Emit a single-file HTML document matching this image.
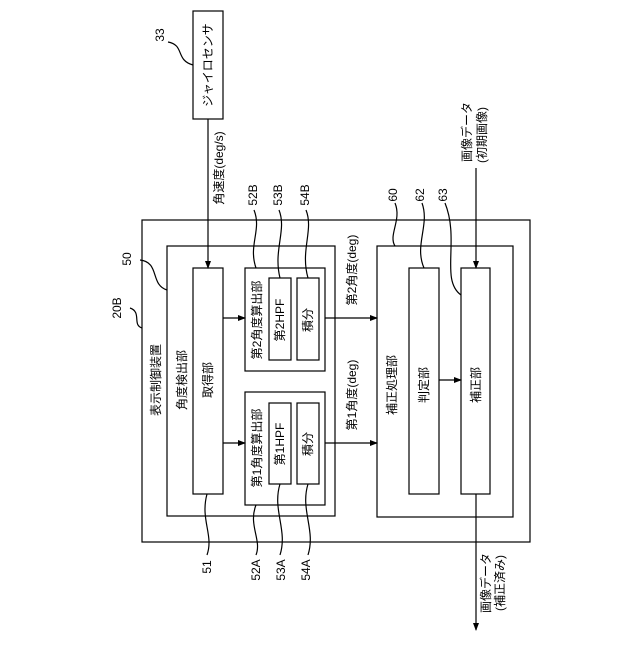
<!DOCTYPE html>
<html><head><meta charset="utf-8"><style>html,body{margin:0;padding:0;background:#fff}</style></head>
<body>
<svg width="640" height="640" viewBox="0 0 640 640" xmlns="http://www.w3.org/2000/svg" font-family="Liberation Sans, Noto Sans CJK JP, sans-serif" font-size="12" fill="#000">
<defs><marker id="a" markerWidth="8" markerHeight="8" refX="7" refY="4" orient="auto" markerUnits="userSpaceOnUse"><path d="M0,1 L8,4 L0,7 Z" fill="#000"/></marker></defs>
<g fill="none" stroke="#000" stroke-width="1.2">
<rect x="193" y="11" width="30" height="108"/>
<rect x="142" y="220" width="388" height="322"/>
<rect x="167" y="246" width="168" height="270"/>
<rect x="193" y="268" width="30" height="226"/>
<rect x="245" y="268" width="80" height="103"/>
<rect x="269" y="278" width="22" height="82"/>
<rect x="297" y="278" width="22" height="82"/>
<rect x="245" y="392" width="80" height="113"/>
<rect x="269" y="403" width="22" height="81"/>
<rect x="297" y="403" width="22" height="81"/>
<rect x="377" y="246" width="136" height="271"/>
<rect x="409" y="268" width="30" height="226"/>
<rect x="461" y="268" width="29" height="226"/>
<line x1="208" y1="119" x2="208" y2="268" marker-end="url(#a)"/>
<line x1="223" y1="318" x2="245" y2="318" marker-end="url(#a)"/>
<line x1="223" y1="443" x2="245" y2="443" marker-end="url(#a)"/>
<line x1="325" y1="318" x2="377" y2="318" marker-end="url(#a)"/>
<line x1="325" y1="443" x2="377" y2="443" marker-end="url(#a)"/>
<line x1="439" y1="380" x2="461" y2="380" marker-end="url(#a)"/>
<line x1="476" y1="168" x2="476" y2="268" marker-end="url(#a)"/>
<line x1="476" y1="494" x2="476" y2="630" marker-end="url(#a)"/>
<path d="M168,42 C185,45 175,60 193,65"/>
<path d="M140,260 C160,262 150,285 167,290"/>
<path d="M130,308 C142,312 132,325 142,328"/>
<path d="M254,210 C262,230 248,245 256,268"/>
<path d="M279,210 C287,230 273,250 280,278"/>
<path d="M306,210 C314,230 300,250 308,278"/>
<path d="M395,203 C402,220 388,235 395,246"/>
<path d="M422,203 C430,225 414,245 424,268"/>
<path d="M445,203 C460,240 440,280 461,295"/>
<path d="M207,494 C200,520 214,535 207,555"/>
<path d="M256,505 C248,525 262,540 256,555"/>
<path d="M280,484 C272,510 288,530 280,555"/>
<path d="M308,484 C300,510 316,530 308,555"/>
</g>
<g text-anchor="middle" dominant-baseline="central">
<text transform="translate(208,65) rotate(-90)">ジャイロセンサ</text>
<text transform="translate(219,168) rotate(-90)">角速度(deg/s)</text>
<text transform="translate(160,35) rotate(-90)">33</text>
<text transform="translate(127,259) rotate(-90)">50</text>
<text transform="translate(117,308) rotate(-90)">20B</text>
<text transform="translate(156,380) rotate(-90)">表示制御装置</text>
<text transform="translate(182,380) rotate(-90)">角度検出部</text>
<text transform="translate(208,380) rotate(-90)">取得部</text>
<text transform="translate(257,320) rotate(-90)">第2角度算出部</text>
<text transform="translate(280,320) rotate(-90)">第2HPF</text>
<text transform="translate(308,320) rotate(-90)">積分</text>
<text transform="translate(257,448) rotate(-90)">第1角度算出部</text>
<text transform="translate(280,444) rotate(-90)">第1HPF</text>
<text transform="translate(308,444) rotate(-90)">積分</text>
<text transform="translate(352,270) rotate(-90)">第2角度(deg)</text>
<text transform="translate(352,395) rotate(-90)">第1角度(deg)</text>
<text transform="translate(392,385) rotate(-90)">補正処理部</text>
<text transform="translate(424,385) rotate(-90)">判定部</text>
<text transform="translate(476,385) rotate(-90)">補正部</text>
<text transform="translate(253,195) rotate(-90)">52B</text>
<text transform="translate(278,195) rotate(-90)">53B</text>
<text transform="translate(305,195) rotate(-90)">54B</text>
<text transform="translate(393,195) rotate(-90)">60</text>
<text transform="translate(420,195) rotate(-90)">62</text>
<text transform="translate(443,195) rotate(-90)">63</text>
<text transform="translate(467,132) rotate(-90)">画像データ</text>
<text transform="translate(482,135) rotate(-90)">(初期画像)</text>
<text transform="translate(207,567) rotate(-90)">51</text>
<text transform="translate(256,570) rotate(-90)">52A</text>
<text transform="translate(281,570) rotate(-90)">53A</text>
<text transform="translate(306,570) rotate(-90)">54A</text>
<text transform="translate(486,583) rotate(-90)">画像データ</text>
<text transform="translate(500,583) rotate(-90)">(補正済み)</text>
</g>
</svg>
</body></html>
